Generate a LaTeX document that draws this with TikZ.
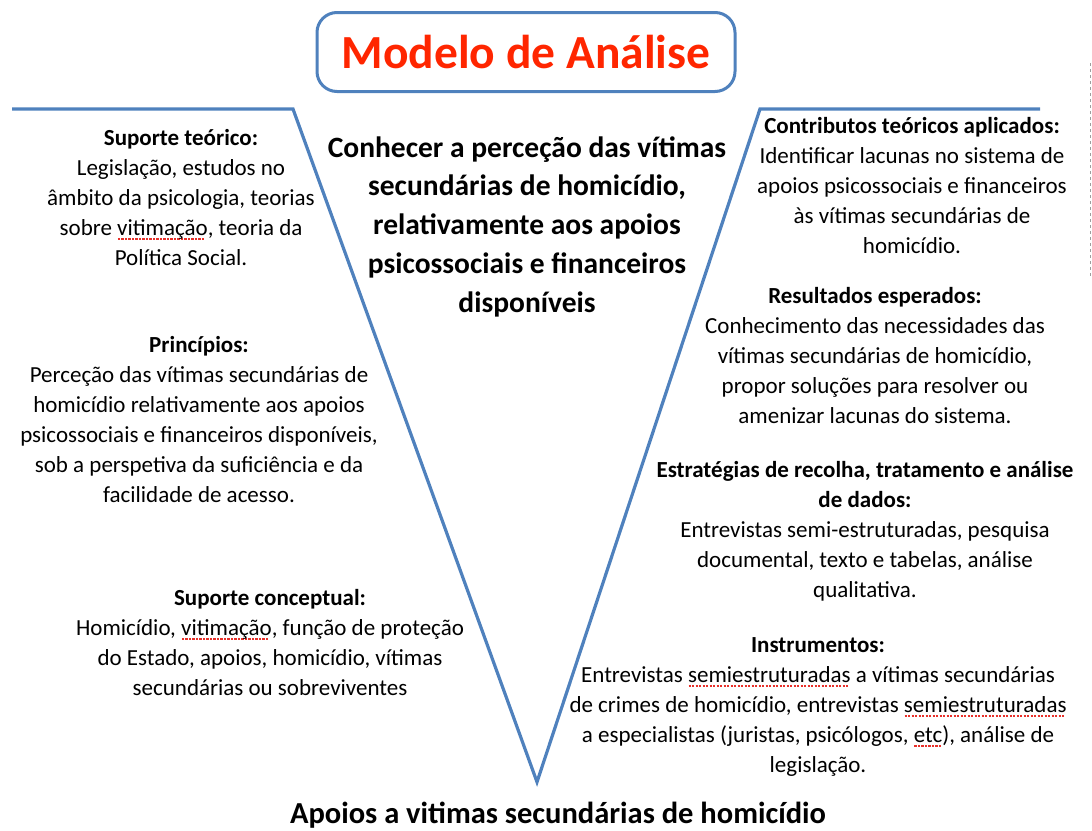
\documentclass[tikz,border=0pt]{standalone}
\usepackage{fontspec}
\setmainfont{Carlito}
\usepackage{tikz}
\definecolor{blue500}{HTML}{4F81BD}
\definecolor{red500}{HTML}{FF2600}
\definecolor{red400}{HTML}{E8302A}
\definecolor{gray400}{HTML}{9E9E9E}
\tikzstyle{vline}=[draw=blue500, line width=3.2pt, line join=miter]
\tikzstyle{titlebox}=[draw=blue500, line width=3pt, rounded corners=20pt, fill=white, minimum width=418pt, minimum height=79pt, text=red500, font=\fontsize{47.5}{50}\selectfont\bfseries]
\tikzstyle{bloco}=[align=center, inner sep=0pt, anchor=base, font=\fontsize{23}{30}\selectfont]
\tikzstyle{meio}=[align=center, inner sep=0pt, anchor=base, font=\fontsize{29.5}{38.7}\selectfont\bfseries]
\newcommand{\erro}[1]{\setbox0=\hbox{#1}\rlap{\raisebox{-5pt}[0pt][0pt]{\color{red400}\hbox to \wd0{\leaders\hbox to 3.5pt{\hss\vrule width 2.2pt height 1.8pt\hss}\hfill}}}\box0\relax}

\begin{document}
\begin{tikzpicture}[x=1pt, y=-1pt]
	\useasboundingbox (0,0) rectangle (1092,830);
	\coordinate (l0) at (12,109);
	\coordinate (l1) at (293,109);
	\coordinate (ap) at (537,782);
	\coordinate (r1) at (760,109);
	\coordinate (r0) at (1040,109);
	\path[vline] (l0)--(l1)--(ap)--(r1)--(r0);
	\node[titlebox] (titulo) at (526,52) {Modelo de Análise};
	\node[meio] (objetivo) at (527,312) {Conhecer a perceção das vítimas\\secundárias de homicídio,\\relativamente aos apoios\\psicossociais e financeiros\\disponíveis};
	\node[bloco] (teorico) at (181,265) {\textbf{Suporte teórico:}\\Legislação, estudos no\\âmbito da psicologia, teorias\\sobre \erro{vitimação}, teoria da\\Política Social.};
	\node[bloco] (principios) at (199,502) {\textbf{Princípios:}\\Perceção das vítimas secundárias de\\homicídio relativamente aos apoios\\psicossociais e financeiros disponíveis,\\sob a perspetiva da suficiência e da\\facilidade de acesso.};
	\node[bloco] (conceptual) at (270,695) {\textbf{Suporte conceptual:}\\Homicídio, \erro{vitimação}, função de proteção\\do Estado, apoios, homicídio, vítimas\\secundárias ou sobreviventes};
	\node[bloco] (contributos) at (912,253) {\textbf{Contributos teóricos aplicados:}\\Identificar lacunas no sistema de\\apoios psicossociais e financeiros\\às vítimas secundárias de\\homicídio.};
	\node[bloco] (resultados) at (875,423) {\textbf{Resultados esperados:}\\Conhecimento das necessidades das\\vítimas secundárias de homicídio,\\propor soluções para resolver ou\\amenizar lacunas do sistema.};
	\node[bloco] (estrategias) at (865,597) {\textbf{Estratégias de recolha, tratamento e análise}\\\textbf{de dados:}\\Entrevistas semi-estruturadas, pesquisa\\documental, texto e tabelas, análise\\qualitativa.};
	\node[bloco] (instrumentos) at (818,772) {\textbf{Instrumentos:}\\Entrevistas \erro{semiestruturadas} a vítimas secundárias\\de crimes de homicídio, entrevistas \erro{semiestruturadas}\\a especialistas (juristas, psicólogos, \erro{etc}), análise de\\legislação.};
	\node[meio, font=\fontsize{30.5}{36}\selectfont\bfseries] (apoios) at (558,823) {Apoios a vitimas secundárias de homicídio};
	\path[draw=gray400, line width=0.8pt, dashed] (1090,63)--(1090,277);
\end{tikzpicture}
\end{document}
